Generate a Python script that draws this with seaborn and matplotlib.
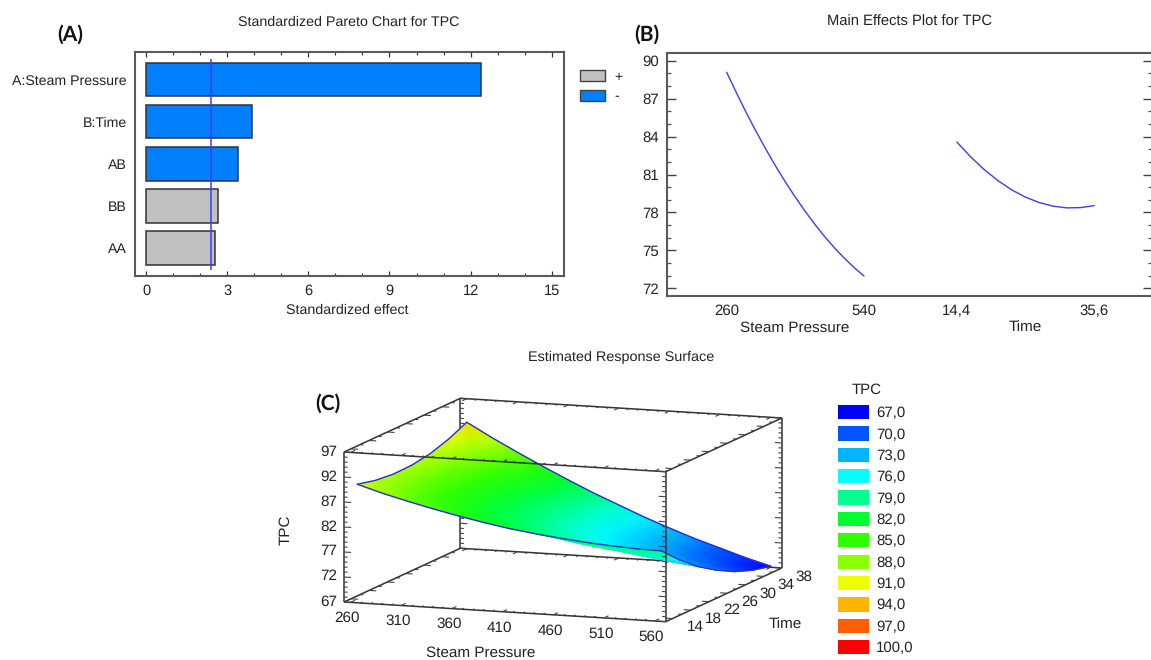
import numpy as np
import pandas as pd
import seaborn as sns
import matplotlib.pyplot as plt
from matplotlib.collections import LineCollection
from matplotlib.colors import LinearSegmentedColormap
from matplotlib.patches import Patch
from matplotlib.ticker import MultipleLocator
from mpl_toolkits.mplot3d import proj3d
from mpl_toolkits.mplot3d.art3d import Line3DCollection

# Pareto chart
terms = ["A:Steam Pressure", "B:Time", "AB", "BB", "AA"]
effects = [12.4, 3.92, 3.41, 2.64, 2.53]
signs = ["-", "-", "-", "+", "+"]
critical_effect = 2.38

# main effects
pressure_x = [260, 280, 300, 320, 340, 360, 380, 400, 420, 440, 460, 480, 500, 520, 540]
pressure_y = [89.08, 87.45, 85.88, 84.40, 82.99, 81.65, 80.39, 79.20, 78.09, 77.05, 76.08, 75.19, 74.38, 73.64, 72.97]
time_x = [14.4, 16.52, 18.64, 20.76, 22.88, 25.0, 27.12, 29.24, 31.36, 33.48, 35.6]
time_y = [83.57, 82.40, 81.38, 80.51, 79.78, 79.21, 78.78, 78.50, 78.36, 78.38, 78.54]
main_yticks = [72, 75, 78, 81, 84, 87, 90]

# response surface, one row per time
surf_pressure = [260, 285, 310, 335, 360, 385, 410, 435, 460, 485, 510, 535, 560]
surf_time = [14, 18, 22, 26, 30, 34, 38]
surf_tpc = [
    [90.0, 88.5, 87.2, 86.0, 84.9, 83.9, 83.0, 82.3, 81.7, 81.2, 80.8, 80.5, 80.4],
    [89.1, 87.4, 85.8, 84.4, 83.1, 81.9, 80.8, 79.9, 79.0, 78.3, 77.7, 77.2, 76.9],
    [88.7, 86.8, 85.0, 83.4, 81.8, 80.4, 79.1, 77.9, 76.9, 76.0, 75.2, 74.5, 73.9],
    [88.8, 86.7, 84.7, 82.8, 81.1, 79.5, 77.9, 76.6, 75.3, 74.2, 73.1, 72.2, 71.5],
    [89.4, 87.1, 84.9, 82.8, 80.9, 79.0, 77.3, 75.7, 74.2, 72.9, 71.6, 70.5, 69.5],
    [90.6, 88.1, 85.6, 83.4, 81.2, 79.1, 77.2, 75.4, 73.7, 72.1, 70.6, 69.3, 68.1],
    [92.3, 89.5, 86.9, 84.4, 82.0, 79.7, 77.6, 75.5, 73.6, 71.8, 70.2, 68.6, 67.2],
]
pressure_ticks = [260, 310, 360, 410, 460, 510, 560]
time_ticks = [14, 18, 22, 26, 30, 34, 38]
tpc_ticks = [67, 72, 77, 82, 87, 92, 97]
level_labels = ["67,0", "70,0", "73,0", "76,0", "79,0", "82,0", "85,0", "88,0", "91,0", "94,0", "97,0", "100,0"]
level_colors = ["#0000ff", "#0055ff", "#00b4ff", "#00ffff", "#00ff90", "#00ff30",
                "#30ff00", "#8cff00", "#eeff00", "#ffb400", "#ff5f00", "#ff0000"]

W, H = 1151, 660
sns.set_theme(style="white")
plt.rcParams["font.family"] = ["Liberation Sans", "DejaVu Sans"]
plt.rcParams["text.hinting"] = "no_hinting"
TXT = "#222222"
FRAME = "#5a5a5a"
LINE_BLUE = "#3c3cff"

fig = plt.figure(figsize=(W / 100, H / 100), dpi=100)


def rect(x0, y0, x1, y1):
    # pixel box (y down) to figure fractions
    return [x0 / W, 1 - y1 / H, (x1 - x0) / W, (y1 - y0) / H]


def put(x, y, s, size=10.5, **kw):
    kw.setdefault("color", TXT)
    fig.text(x / W, 1 - y / H, s, fontsize=size, ha="center", va="center", **kw)


def style_frame(ax, spines):
    for name, sp in ax.spines.items():
        sp.set_visible(name in spines)
        sp.set_color(FRAME)
        sp.set_linewidth(1.5)


# (C) goes first so the A and B frames stay on top of its empty background
XLO, XHI = 253.6, 571.0
YLO, YHI = 12.5, 38.0
ZLO, ZHI = 67.0, 97.0
aspect = (342.3, 340.0, 152.1)
ax_c = fig.add_axes(rect(333, 280, 793, 740), projection="3d", proj_type="ortho",
                    computed_zorder=False)
ax_c.patch.set_visible(False)
ax_c.view_init(elev=9.68, azim=-70)
ax_c.set_xlim(XLO, XHI, view_margin=0)
ax_c.set_ylim(YLO, YHI, view_margin=0)
ax_c.set_zlim(ZLO, ZHI, view_margin=0)
ax_c.set_box_aspect(aspect, zoom=1)
ax_c.set_axis_off()


def to_px(x, y, z):
    shape = np.shape(x)
    px, py, _ = proj3d.proj_transform(np.ravel(x).astype(float), np.ravel(y).astype(float),
                                      np.ravel(z).astype(float), ax_c.get_proj())
    pts = ax_c.transData.transform(np.column_stack([px, py]))
    return pts[:, 0].reshape(shape), pts[:, 1].reshape(shape)


# fit the box onto the wanted pixels: x edge 321.7 px wide, front left bottom corner at (344, 602)
fig.canvas.draw()
x0_now, _ = to_px([XLO], [YLO], [ZLO])
x1_now, _ = to_px([XHI], [YLO], [ZLO])
ax_c.set_box_aspect(aspect, zoom=321.7 / (x1_now[0] - x0_now[0]))
fig.canvas.draw()
cx, cy = to_px([XLO], [YLO], [ZLO])
pos = ax_c.get_position(original=True)
ax_c.set_position([pos.x0 + (344 - cx[0]) / W, pos.y0 + ((H - 602) - cy[0]) / H, pos.width, pos.height])
fig.canvas.draw()

edge_back = [
    ((XLO, YHI, ZLO), (XLO, YHI, ZHI)), ((XLO, YHI, ZLO), (XHI, YHI, ZLO)),
    ((XLO, YLO, ZLO), (XLO, YHI, ZLO)), ((XLO, YHI, ZHI), (XHI, YHI, ZHI)),
    ((XLO, YLO, ZHI), (XLO, YHI, ZHI)), ((XHI, YHI, ZLO), (XHI, YHI, ZHI)),
    ((XHI, YLO, ZHI), (XHI, YHI, ZHI)), ((XHI, YLO, ZLO), (XHI, YHI, ZLO)),
]
edge_front = [
    ((XLO, YLO, ZLO), (XHI, YLO, ZLO)), ((XLO, YLO, ZHI), (XHI, YLO, ZHI)),
    ((XLO, YLO, ZLO), (XLO, YLO, ZHI)), ((XHI, YLO, ZLO), (XHI, YLO, ZHI)),
]

# tick marks on the box edges
tick_back, tick_front = [], []
for v in range(260, 571, 10):
    d = 1.0 if v % 50 == 10 else 0.5
    tick_front.append(((v, YLO, ZLO), (v, YLO + d, ZLO)))
    tick_front.append(((v, YLO, ZHI), (v, YLO + d, ZHI)))
    tick_back.append(((v, YHI, ZLO), (v, YHI - d, ZLO)))
    tick_back.append(((v, YHI, ZHI), (v, YHI - d, ZHI)))
for v in range(14, 39, 2):
    d = 7 if v % 4 == 2 else 3.5
    for z in (ZLO, ZHI):
        tick_back.append(((XLO, v, z), (XLO + d, v, z)))
        tick_back.append(((XHI, v, z), (XHI - d, v, z)))
for v in range(67, 98):
    d = 7 if v % 5 == 2 else 3.5
    tick_front.append(((XLO, YLO, v), (XLO + d, YLO, v)))
    tick_front.append(((XHI, YLO, v), (XHI - d, YLO, v)))
    tick_back.append(((XLO, YHI, v), (XLO + d, YHI, v)))
    tick_back.append(((XHI, YHI, v), (XHI - d, YHI, v)))

ax_c.add_collection3d(Line3DCollection(edge_back, colors="#333333", linewidths=1.1, zorder=1))
ax_c.add_collection3d(Line3DCollection(tick_back, colors="#444444", linewidths=0.8, zorder=1))

for v in pressure_ticks:
    ax_c.text(v - 3, YLO, ZLO - 3.2, str(v), ha="center", va="center", fontsize=11, color=TXT)
for v in time_ticks:
    ax_c.text(XHI + 22, v, ZLO - 1.5, str(v), ha="center", va="center", fontsize=11, color=TXT)
for v in tpc_ticks:
    ax_c.text(XLO - 7, YLO, v, str(v), ha="right", va="center", fontsize=11, color=TXT)

# smooth shading: project the grid through the 3D axes and paint it on a 2D layer, far rows first
ax_s = fig.add_axes([0, 0, 1, 1])
ax_s.set_xlim(0, W)
ax_s.set_ylim(0, H)
ax_s.set_axis_off()
tpc_cmap = LinearSegmentedColormap.from_list("tpc", level_colors)
grid_x, grid_y = np.meshgrid(surf_pressure, surf_time)
grid_z = np.array(surf_tpc)
sx, sy = to_px(grid_x, grid_y, grid_z)
ax_s.pcolormesh(sx[::-1], sy[::-1], grid_z[::-1], shading="gouraud", cmap=tpc_cmap, vmin=67, vmax=100)
for xs, ys in [(sx[0], sy[0]), (sx[-1], sy[-1]), (sx[:, 0], sy[:, 0]), (sx[:, -1], sy[:, -1])]:
    ax_s.plot(xs, ys, color="#2a2ae0", lw=1.0)


def segs_px(segs):
    a = np.array(segs, dtype=float)
    qx, qy = to_px(a[..., 0], a[..., 1], a[..., 2])
    return np.stack([qx, qy], axis=-1)


ax_s.add_collection(LineCollection(segs_px(edge_front), colors="#333333", linewidths=1.1))
ax_s.add_collection(LineCollection(segs_px(tick_front), colors="#444444", linewidths=0.8))

put(621, 357, "Estimated Response Surface", 10.4)
put(481, 653, "Steam Pressure", 11)
put(785, 625, "Time", 11)
put(286, 530, "TPC", 11, rotation=90)
put(327.7, 403, "(C)", 15, family="Lato", weight="bold", color="#111111")
put(867, 390, "TPC", 10.8)

fig.legend(handles=[Patch(facecolor=c, edgecolor="none", label=t) for c, t in zip(level_colors, level_labels)],
           loc="upper left", bbox_to_anchor=(838 / W, 1 - 405 / H), frameon=False, fontsize=10.8,
           handlelength=2.05, handleheight=1.09, labelspacing=0.40, handletextpad=0.5,
           borderpad=0, borderaxespad=0, labelcolor=TXT)

# (A) Pareto
ax_a = fig.add_axes(rect(134.5, 52, 564, 276))
pareto = pd.DataFrame({"term": terms, "effect": effects, "sign": signs})
sns.barplot(data=pareto, y="term", x="effect", hue="sign", hue_order=["+", "-"],
            palette={"+": "#c0c0c0", "-": "#0080ff"}, saturation=1, dodge=False, width=0.8,
            edgecolor="#333333", linewidth=1.1, legend=False, ax=ax_a)
ax_a.vlines(critical_effect, -0.49, 4.52, color=LINE_BLUE, lw=1.1, zorder=5)
ax_a.set_xlim(-0.44, 15.46)
ax_a.set_ylim(4.667, -0.655)
ax_a.set_xticks([0, 3, 6, 9, 12, 15])
ax_a.xaxis.set_minor_locator(MultipleLocator(1))
ax_a.set_xlabel("")
ax_a.set_ylabel("")
ax_a.tick_params(axis="x", which="major", direction="in", top=True, bottom=True, length=3.5,
                 width=0.9, color="#333333", pad=6, labelsize=10.5, labelcolor=TXT)
ax_a.tick_params(axis="x", which="minor", direction="in", top=True, bottom=True, length=2,
                 width=0.8, color="#333333")
ax_a.tick_params(axis="y", length=0, pad=5.4, labelsize=10.2, labelcolor=TXT)
style_frame(ax_a, ["left", "right", "top", "bottom"])
ax_a.legend(handles=[Patch(facecolor="#c0c0c0", edgecolor="#444444", label="+"),
                     Patch(facecolor="#0080ff", edgecolor="#444444", label="-")],
            loc="upper left", bbox_to_anchor=(580 / W, 1 - 70 / H), bbox_transform=fig.transFigure,
            frameon=False, fontsize=10, handlelength=1.8, handleheight=0.85, labelspacing=0.45,
            handletextpad=0.7, borderpad=0, borderaxespad=0, labelcolor=TXT)
put(349, 22.7, "Standardized Pareto Chart for TPC", 10.3)
put(347, 310.7, "Standardized effect", 10.3)
put(70, 34, "(A)", 15, family="Lato", weight="bold", color="#111111")

# (B) main effects, both factors share one x axis
GAP = 0.677
ax_b = fig.add_axes(rect(667, 53, 1151.5, 296))
pressure_pos = (np.array(pressure_x) - 260) / (540 - 260)
time_pos = 1 + GAP + (np.array(time_x) - 14.4) / (35.6 - 14.4)
sns.lineplot(x=pressure_pos, y=pressure_y, color=LINE_BLUE, lw=1, sort=False, estimator=None, ax=ax_b)
sns.lineplot(x=time_pos, y=time_y, color=LINE_BLUE, lw=1, sort=False, estimator=None, ax=ax_b)
ax_b.set_xlim(-0.435, 3.095)
ax_b.set_ylim(71.39, 90.61)
ax_b.set_xticks([0, 1, 1 + GAP, 2 + GAP], ["260", "540", "14,4", "35,6"])
ax_b.set_yticks(main_yticks)
ax_b.yaxis.set_minor_locator(MultipleLocator(1))
ax_b.tick_params(axis="x", length=0, pad=6, labelsize=10.8, labelcolor=TXT)
ax_b.tick_params(axis="y", which="major", direction="in", left=True, right=True, length=6.5,
                 width=1, color="#444444", pad=5.5, labelsize=10.8, labelcolor=TXT)
ax_b.tick_params(axis="y", which="minor", direction="in", left=True, right=True, length=3,
                 width=0.9, color="#555555", pad=-30)
style_frame(ax_b, ["left", "top", "bottom"])
put(910, 21.7, "Main Effects Plot for TPC", 10.6)
put(795, 328, "Steam Pressure", 11)
put(1025, 328, "Time", 11)
put(647, 34, "(B)", 15, family="Lato", weight="bold", color="#111111")

fig.savefig("out.png", dpi=100)
